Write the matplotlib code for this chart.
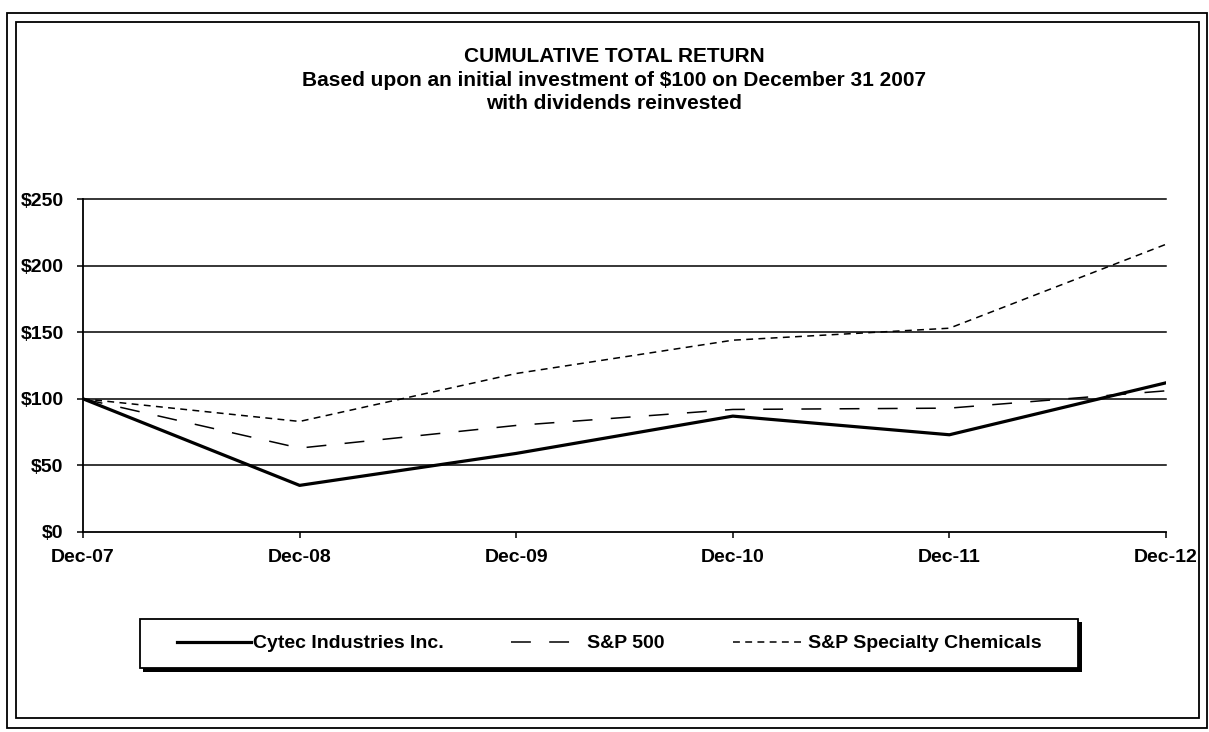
import numpy as np
import matplotlib
matplotlib.use('Agg')
import matplotlib.pyplot as plt
from matplotlib.patches import Rectangle

matplotlib.rcParams['font.family'] = ['Liberation Sans', 'DejaVu Sans']
matplotlib.rcParams['font.weight'] = 'bold'

# data
periods = ['Dec-07', 'Dec-08', 'Dec-09', 'Dec-10', 'Dec-11', 'Dec-12']
cytec = [100, 35, 59, 87, 73, 112]
sp500 = [100, 63, 80, 92, 93, 106]
spchem = [100, 83, 119, 144, 153, 216]
yticks = [0, 50, 100, 150, 200, 250]

W, H = 1209, 732
fig = plt.figure(figsize=(W/100, H/100), dpi=100)

# rectangles given in pixel coords (top-left origin)
def px_rect(x0, y0, x1, y1, lw, fill=False, fc='white', z=0):
    r = Rectangle((x0/W, 1-y1/H), (x1-x0)/W, (y1-y0)/H,
                  transform=fig.transFigure, fill=fill, facecolor=fc,
                  edgecolor='black', linewidth=lw, zorder=z)
    fig.patches.append(r)
    return r

# double frame around the whole chart
px_rect(7, 13, 1207, 728, 1.3)
px_rect(16, 22, 1199, 718, 1.3)

ax = fig.add_axes([83/W, 1-532/H, (1166-83)/W, (532-199)/H])
x = np.arange(len(periods))
ax.plot(x, cytec, color='black', lw=2.3, label='Cytec Industries Inc.')
ax.plot(x, sp500, color='black', lw=1.1, dashes=(13, 12), label='S&P 500')
ax.plot(x, spchem, color='black', lw=1.1, dashes=(4.5, 3.5), label='S&P Specialty Chemicals')

ax.set_xlim(0, len(periods)-1)
ax.set_ylim(0, 250)
ax.set_xticks(x)
ax.set_xticklabels(periods, fontsize=14, fontweight='bold')
ax.set_yticks(yticks)
ax.set_yticklabels(['${}'.format(v) for v in yticks], fontsize=14, fontweight='bold')
ax.tick_params(axis='y', length=4, width=1.1, pad=10)
ax.tick_params(axis='x', length=4, width=1.1, pad=8)
for v in yticks[1:]:
    ax.axhline(v, color='black', lw=1.1, clip_on=False, zorder=1)
for s in ['top', 'right']:
    ax.spines[s].set_visible(False)
for s in ['left', 'bottom']:
    ax.spines[s].set_linewidth(1.3)

title = ('CUMULATIVE TOTAL RETURN\n'
         'Based upon an initial investment of $100 on December 31 2007\n'
         'with dividends reinvested')
fig.text(614/W, 1-80/H, title, ha='center', va='center', fontsize=15,
         fontweight='bold', linespacing=1.28)

# legend box with a solid offset shadow
px_rect(143, 622, 1082, 672, 0, fill=True, fc='black', z=1)
px_rect(140, 619, 1078, 668, 1.3, fill=True, fc='white', z=2)
leg = fig.legend(loc='center', bbox_to_anchor=(177/W, 1-668/H, (1042-177)/W, 49/H),
                 mode='expand', ncol=3, borderaxespad=0, borderpad=0,
                 handlelength=3.8, handletextpad=0.1, frameon=False,
                 prop={'weight': 'bold', 'size': 14})
leg.set_zorder(3)

fig.savefig('out.png', dpi=100)
